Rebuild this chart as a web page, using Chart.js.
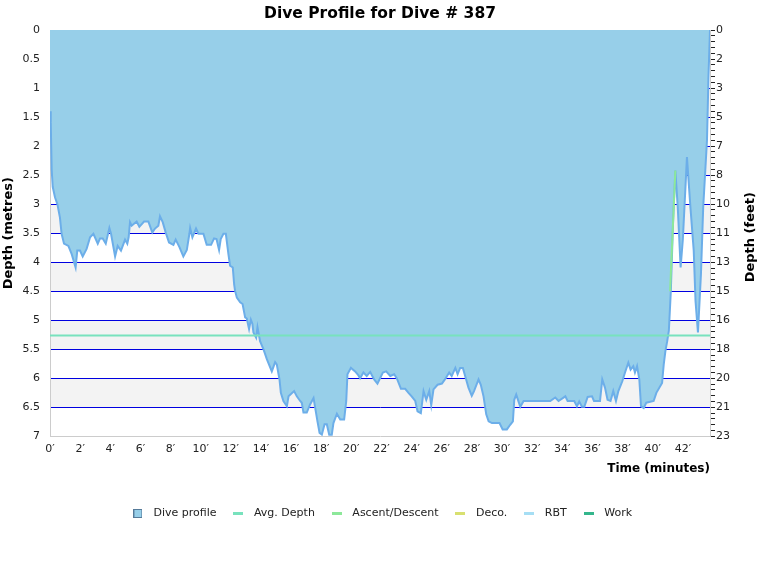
<!DOCTYPE html>
<html>
<head>
<meta charset="utf-8">
<title>Dive Profile for Dive # 387</title>
<script src="https://cdn.jsdelivr.net/npm/chart.js@4.4.1/dist/chart.umd.min.js"></script>
<style>
  html, body { margin: 0; padding: 0; background: #fff; }
  canvas { display: block; }
</style>
</head>
<body>
<canvas id="diveChart" width="760" height="580"></canvas>
<script>
// profile samples, time in minutes and depth in metres
const times = [
  0, 0.05, 0.11, 0.18, 0.33, 0.49, 0.66, 0.77, 0.93, 1.22, 1.44, 1.70, 1.81, 1.99, 2.17, 2.43,
  2.66, 2.88, 3.17, 3.32, 3.50, 3.70, 3.94, 4.05, 4.32, 4.49, 4.71, 4.98, 5.13, 5.22, 5.31, 5.42,
  5.75, 5.93, 6.24, 6.53, 6.79, 6.97, 7.19, 7.30, 7.48, 7.68, 7.90, 8.19, 8.34, 8.59, 8.85, 9.08,
  9.25, 9.30, 9.45, 9.69, 9.85, 10.18, 10.40, 10.69, 10.89, 11.05, 11.22, 11.33, 11.51, 11.67, 11.84, 11.95,
  12.13, 12.22, 12.28, 12.40, 12.62, 12.78, 12.95, 13.06, 13.21, 13.33, 13.43, 13.50, 13.68, 13.77, 13.94, 14.17,
  14.39, 14.72, 14.94, 15.05, 15.23, 15.32, 15.49, 15.72, 15.83, 16.20, 16.38, 16.60, 16.71, 16.82, 17.04, 17.26,
  17.49, 17.60, 17.75, 17.89, 18.04, 18.22, 18.37, 18.53, 18.70, 18.81, 19.04, 19.26, 19.52, 19.66, 19.74, 19.97,
  20.25, 20.47, 20.58, 20.80, 21.02, 21.25, 21.51, 21.73, 22.09, 22.31, 22.58, 22.84, 23.02, 23.29, 23.57, 23.79,
  24.00, 24.24, 24.39, 24.61, 24.79, 24.97, 25.17, 25.30, 25.45, 25.72, 26.01, 26.23, 26.49, 26.66, 26.90, 27.05,
  27.22, 27.40, 27.55, 27.77, 27.99, 28.14, 28.44, 28.59, 28.77, 28.95, 29.11, 29.33, 29.83, 30.04, 30.32, 30.54,
  30.72, 30.81, 30.94, 31.21, 31.43, 31.70, 33.20, 33.53, 33.75, 34.20, 34.35, 34.79, 34.97, 35.12, 35.30, 35.46,
  35.68, 35.97, 36.10, 36.50, 36.65, 36.83, 37.00, 37.20, 37.38, 37.56, 37.72, 37.98, 38.16, 38.38, 38.53, 38.71,
  38.82, 38.96, 39.11, 39.22, 39.40, 39.57, 40.06, 40.24, 40.62, 40.73, 40.84, 40.96, 41.07, 41.20, 41.35, 41.50,
  41.66, 41.85, 42.00, 42.27, 42.50, 42.72, 42.84, 43.00, 43.20, 43.35, 43.60, 43.70, 43.80
];
const depths = [
  1.40, 1.60, 2.40, 2.70, 2.88, 3.00, 3.23, 3.51, 3.68, 3.72, 3.86, 4.09, 3.80, 3.80, 3.90, 3.77,
  3.57, 3.51, 3.68, 3.59, 3.59, 3.68, 3.41, 3.51, 3.90, 3.72, 3.80, 3.61, 3.68, 3.57, 3.31, 3.37,
  3.30, 3.39, 3.30, 3.30, 3.49, 3.42, 3.37, 3.21, 3.31, 3.49, 3.66, 3.70, 3.61, 3.74, 3.90, 3.79,
  3.51, 3.41, 3.57, 3.42, 3.51, 3.51, 3.70, 3.70, 3.59, 3.60, 3.79, 3.60, 3.51, 3.51, 3.86, 4.06,
  4.09, 4.38, 4.49, 4.61, 4.69, 4.72, 4.95, 4.97, 5.15, 4.99, 5.06, 5.21, 5.30, 5.12, 5.36, 5.50,
  5.67, 5.88, 5.72, 5.76, 6.02, 6.25, 6.39, 6.48, 6.31, 6.22, 6.31, 6.39, 6.42, 6.59, 6.59, 6.45,
  6.34, 6.51, 6.74, 6.94, 6.97, 6.79, 6.79, 6.97, 6.97, 6.77, 6.61, 6.71, 6.71, 6.39, 5.93, 5.82,
  5.88, 5.95, 6.00, 5.90, 5.96, 5.89, 6.02, 6.09, 5.90, 5.88, 5.96, 5.93, 6.00, 6.18, 6.18, 6.25,
  6.31, 6.39, 6.57, 6.60, 6.22, 6.37, 6.22, 6.46, 6.19, 6.11, 6.09, 6.01, 5.90, 5.96, 5.82, 5.93,
  5.82, 5.82, 5.96, 6.16, 6.30, 6.22, 6.02, 6.11, 6.31, 6.62, 6.74, 6.77, 6.77, 6.88, 6.88, 6.80,
  6.74, 6.37, 6.28, 6.49, 6.39, 6.39, 6.39, 6.33, 6.39, 6.31, 6.39, 6.39, 6.48, 6.40, 6.49, 6.49,
  6.32, 6.31, 6.39, 6.39, 6.02, 6.16, 6.37, 6.39, 6.22, 6.39, 6.22, 6.05, 5.90, 5.73, 5.85, 5.79,
  5.90, 5.79, 6.02, 6.48, 6.51, 6.42, 6.39, 6.25, 6.08, 5.76, 5.53, 5.36, 5.18, 4.50, 3.30, 2.42,
  3.05, 4.09, 3.60, 2.19, 3.05, 3.80, 4.67, 5.21, 4.20, 3.05, 1.90, 0.80, 0
];

const avgDepth = 5.26;
const ascentTimes = [41.15, 41.5];
const ascentDepths = [4.5, 2.42];

const seriesNames = ['Dive profile', 'Avg. Depth', 'Ascent/Descent', 'Deco.', 'RBT', 'Work'];
const seriesColors = ['#97cfe9', '#78e2bd', '#8de89a', '#d8e070', '#a6def4', '#34b68c'];

const maxTime = 43.8;
const maxDepth = 7;
const metresToFeet = 3.28084;

const toPoints = (xs, ys) => xs.map((x, i) => ({ x, y: ys[i] }));

// little legend markers
function marker(kind, color) {
  const c = document.createElement('canvas');
  const g = c.getContext('2d');
  if (kind === 'box') {
    c.width = 9; c.height = 9;
    g.fillStyle = color;
    g.fillRect(0, 0, 9, 9);
    g.strokeStyle = '#557a99';
    g.lineWidth = 1;
    g.strokeRect(0.5, 0.5, 8, 8);
  } else {
    c.width = 10; c.height = 3;
    g.fillStyle = color;
    g.fillRect(0, 0, 10, 3);
  }
  return c;
}
const markers = seriesColors.map((col, i) => marker(i === 0 ? 'box' : 'line', col));

const bands = {
  id: 'bands',
  beforeDraw(chart) {
    const { ctx, chartArea } = chart;
    const y = chart.scales.y;
    ctx.save();
    ctx.fillStyle = '#f3f3f3';
    for (let i = 0; i < maxDepth * 2; i += 2) {
      const top = y.getPixelForValue(i * 0.5);
      const bot = y.getPixelForValue(i * 0.5 + 0.5);
      ctx.fillRect(chartArea.left, top, chartArea.right - chartArea.left, bot - top);
    }
    ctx.restore();
  }
};

const feetTitle = {
  id: 'feetTitle',
  afterDraw(chart) {
    const { ctx, chartArea } = chart;
    ctx.save();
    ctx.font = "bold 13px 'DejaVu Sans'";
    ctx.fillStyle = '#000';
    ctx.textAlign = 'center';
    ctx.textBaseline = 'middle';
    ctx.translate(chart.width - 9, (chartArea.top + chartArea.bottom) / 2 + 4);
    ctx.rotate(-Math.PI / 2);
    ctx.fillText('Depth (feet)', 0, 0);
    ctx.restore();
  }
};

Chart.defaults.font.family = "'DejaVu Sans', Verdana, sans-serif";
Chart.defaults.color = '#222';

const ctx = document.getElementById('diveChart');
const chart = new Chart(ctx, {
  type: 'line',
  data: {
    datasets: [
      {
        label: seriesNames[0],
        data: toPoints(times, depths),
        borderColor: '#6caee9',
        backgroundColor: seriesColors[0],
        borderWidth: 2,
        fill: 'origin',
        pointRadius: 0,
        tension: 0,
        order: 3,
      },
      {
        label: seriesNames[1],
        data: toPoints([0, maxTime], [avgDepth, avgDepth]),
        borderColor: seriesColors[1],
        borderWidth: 2,
        pointRadius: 0,
        fill: false,
        order: 1,
      },
      {
        label: seriesNames[2],
        data: toPoints(ascentTimes, ascentDepths),
        borderColor: seriesColors[2],
        borderWidth: 2,
        pointRadius: 0,
        fill: false,
        order: 1,
      },
      { label: seriesNames[3], data: [], borderColor: seriesColors[3], pointRadius: 0, order: 1 },
      { label: seriesNames[4], data: [], borderColor: seriesColors[4], pointRadius: 0, order: 1 },
      { label: seriesNames[5], data: [], borderColor: seriesColors[5], pointRadius: 0, order: 1 },
    ],
  },
  options: {
    responsive: false,
    animation: false,
    events: [],
    layout: { padding: { left: 0, right: 0, top: 0, bottom: 51 } },
    plugins: {
      tooltip: { enabled: false },
      title: {
        display: true,
        text: 'Dive Profile for Dive # 387',
        color: '#000',
        font: { size: 15.5, weight: 'bold' },
        padding: { top: 5, bottom: 6.4 },
      },
      legend: {
        position: 'bottom',
        labels: {
          usePointStyle: true,
          pointStyleWidth: 20,
          boxHeight: 9,
          padding: 12,
          font: { size: 11 },
          generateLabels: (chart) =>
            chart.data.datasets.map((ds, i) => ({
              text: ds.label,
              pointStyle: markers[i],
              datasetIndex: i,
              hidden: false,
              fontColor: '#222',
              fillStyle: 'transparent',
              strokeStyle: 'transparent',
              lineWidth: 0,
            })),
        },
      },
    },
    scales: {
      x: {
        type: 'linear',
        min: 0,
        max: maxTime,
        grid: { display: false, drawTicks: false },
        border: { color: '#cccccc' },
        ticks: {
          stepSize: 2,
          includeBounds: false,
          autoSkip: false,
          maxRotation: 0,
          padding: 6,
          font: { size: 11 },
          callback: (v) => v + '\u2032',
        },
        title: {
          display: true,
          text: 'Time (minutes)',
          align: 'end',
          color: '#000',
          font: { size: 12, weight: 'bold' },
          padding: { top: 0, bottom: 20 },
        },
      },
      y: {
        position: 'left',
        reverse: true,
        min: 0,
        max: maxDepth,
        afterFit: (s) => { s.width = 50; },
        grid: {
          drawTicks: false,
          lineWidth: 1,
          color: (c) => (c.tick && (c.tick.value === 0 || c.tick.value === maxDepth) ? 'rgba(0,0,0,0)' : '#0000e0'),
        },
        border: { color: '#cccccc' },
        ticks: {
          stepSize: 0.5,
          padding: 10,
          font: { size: 11 },
          callback: (v) => String(+v.toFixed(1)),
        },
        title: {
          display: true,
          text: 'Depth (metres)',
          color: '#000',
          font: { size: 13, weight: 'bold' },
          padding: { top: 1, bottom: 0 },
        },
      },
      y2: {
        position: 'right',
        reverse: true,
        min: 0,
        max: maxDepth,
        afterFit: (s) => { s.width = 50; },
        grid: { drawOnChartArea: false, drawTicks: true, tickLength: 5, tickColor: '#222' },
        border: { color: '#cccccc' },
        ticks: {
          stepSize: 0.1,
          autoSkip: false,
          padding: 1,
          font: { size: 11 },
          callback: (v) => {
            const half = v * 2;
            return Math.abs(half - Math.round(half)) < 1e-6 ? Math.round(v * metresToFeet) : '';
          },
        },
      },
    },
  },
  plugins: [bands, feetTitle],
});
</script>
</body>
</html>
